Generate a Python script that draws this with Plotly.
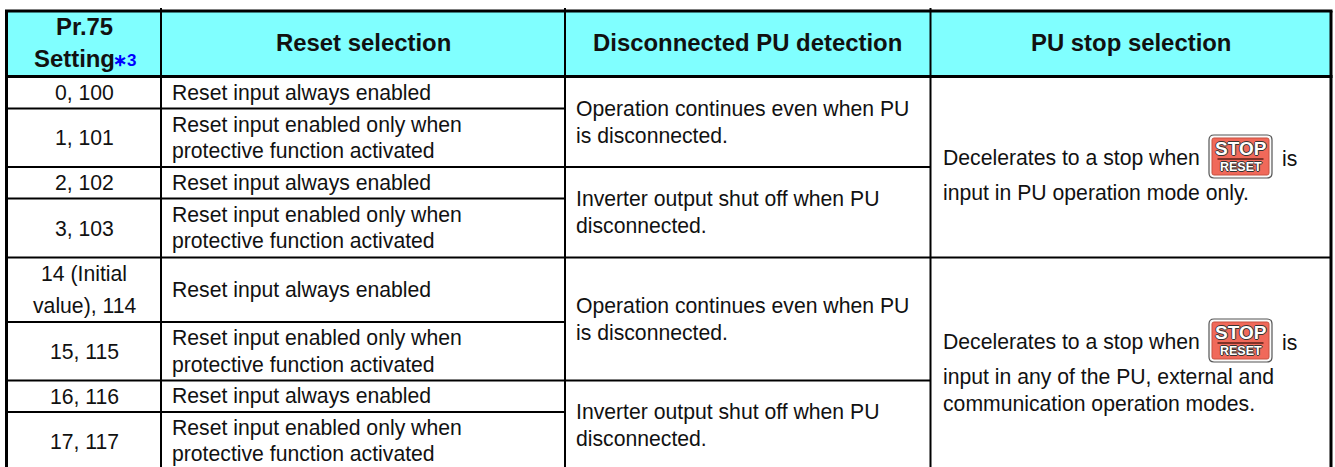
import plotly.graph_objects as go

# ---- table content ----
headers = ["Reset selection", "Disconnected PU detection", "PU stop selection"]
pr75_header = ["Pr.75", "Setting"]
footnote_mark = "∗3"
pr75_values = [["0, 100"], ["1, 101"], ["2, 102"], ["3, 103"],
               ["14 (Initial", "value), 114"], ["15, 115"], ["16, 116"], ["17, 117"]]
ALWAYS = ["Reset input always enabled"]
ONLY = ["Reset input enabled only when", "protective function activated"]
reset_values = [ALWAYS, ONLY, ALWAYS, ONLY, ALWAYS, ONLY, ALWAYS, ONLY]
CONT = ["Operation continues even when PU", "is disconnected."]
SHUT = ["Inverter output shut off when PU", "disconnected."]
detect_values = [CONT, SHUT, CONT, SHUT]
stop_values = [
    ["Decelerates to a stop when", "input in PU operation mode only."],
    ["Decelerates to a stop when", "input in any of the PU, external and", "communication operation modes."],
]

# ---- geometry (page pixels, used through the axes) ----
X = [6.5, 161, 565, 930.5, 1331]
Y_TOP, Y_HEAD = 11, 76.5
ROWS = [76.5, 108.5, 167, 198.5, 257.5, 322, 380.5, 412, 470]
FS = 21.2
HFS = 23.9
LH = 26.5
FONT = "Liberation Sans, Arial, sans-serif"

shapes, ann = [], []

def text(x, y, s, anchor="left", bold=False, size=FS, color="#111111"):
    ann.append(dict(x=x, y=y, xref="x", yref="y", text=f"<b>{s}</b>" if bold else s,
                    showarrow=False, xanchor=anchor, yanchor="middle",
                    font=dict(family=FONT, size=size, color=color)))

def line(x0, y0, x1, y1, w=2.2, c="#000000"):
    shapes.append(dict(type="line", x0=x0, y0=y0, x1=x1, y1=y1, xref="x", yref="y",
                       line=dict(color=c, width=w)))

def lines(xc, yc, rows, anchor, lh=LH):
    n = len(rows)
    for i, s in enumerate(rows):
        text(xc, yc + (i - (n - 1) / 2) * lh, s, anchor)

def rounded(x0, y0, x1, y1, r, **kw):
    p = (f"M{x0+r},{y0} L{x1-r},{y0} Q{x1},{y0} {x1},{y0+r} L{x1},{y1-r} Q{x1},{y1} {x1-r},{y1} "
         f"L{x0+r},{y1} Q{x0},{y1} {x0},{y1-r} L{x0},{y0+r} Q{x0},{y0} {x0+r},{y0} Z")
    shapes.append(dict(type="path", path=p, xref="x", yref="y", **kw))

# header background
shapes.append(dict(type="rect", x0=X[0], x1=X[-1], y0=Y_TOP, y1=Y_HEAD, xref="x", yref="y",
                   fillcolor="#80FFFF", line=dict(width=0), layer="below"))

# borders
line(X[0] - 1.5, Y_TOP, X[-1] + 1.5, Y_TOP, 3)
line(X[0] - 1.5, Y_HEAD, X[-1] + 1.5, Y_HEAD, 3)
line(X[0], Y_TOP, X[0], 470, 3)
line(X[-1], Y_TOP, X[-1], 470, 3)
for xv in X[1:-1]:
    line(xv, 8, xv, 470, 2)

# rows
ROW_END = [X[2], X[3], X[2], X[4], X[2], X[3], X[2]]
for yv, xend in zip(ROWS[1:-1], ROW_END):
    line(X[0], yv, xend, yv, 2)

# header text
text(84, 26.5, pr75_header[0], "center", True, HFS)
text(74, 58.5, pr75_header[1], "center", True, HFS)
ann.append(dict(x=124.5, y=60, xref="x", yref="y", text=f"<b>{footnote_mark}</b>", showarrow=False,
                xanchor="center", yanchor="middle",
                font=dict(family="Liberation Sans Narrow, Liberation Sans", size=17, color="#0000FF")))
for k, h in enumerate(headers):
    text((X[k + 1] + X[k + 2]) / 2, 42.5, h, "center", True, HFS)

# body text
for r in range(8):
    yc = (ROWS[r] + ROWS[r + 1]) / 2
    lines(84, yc, pr75_values[r], "center", 32 if len(pr75_values[r]) > 1 else LH)
    lines(170, yc, reset_values[r], "left")
for g in range(4):
    yc = (ROWS[2 * g] + ROWS[2 * g + 2]) / 2
    lines(573.5, yc, detect_values[g], "left")

# stop column
SHADOW = "-1px 0 #333, 1px 0 #333, 0 -1px #333, 0 1px #333"
def button(cx, cy):
    w, h = 63, 43
    rounded(cx - w / 2, cy - h / 2, cx + w / 2, cy + h / 2, 5, fillcolor="#FAFAFA",
            line=dict(color="#555555", width=1.2))
    rounded(cx - w / 2 + 3, cy - h / 2 + 3, cx + w / 2 - 3, cy + h / 2 - 3, 2, fillcolor="#F0695A",
            line=dict(color="#C9503F", width=1))
    line(cx - 23, cy + 2.5, cx + 23, cy + 2.5, 1.5, "#5A1F18")
    ann.append(dict(x=cx, y=cy - 8.5, xref="x", yref="y", text="<b>STOP</b>", showarrow=False,
                    font=dict(family=FONT, size=19, color="#FFFFFF", shadow=SHADOW)))
    ann.append(dict(x=cx, y=cy + 10, xref="x", yref="y", text="<b>RESET</b>", showarrow=False,
                    font=dict(family=FONT, size=12.5, color="#FFFFFF", shadow=SHADOW)))

STOP_Y = [158, 342]
for yb, block in zip(STOP_Y, stop_values):
    text(940.5, yb, block[0])
    text(1280, yb, "is")
    button(1240.5, yb - 1.5)
    for j, s in enumerate(block[1:]):
        text(940.5, yb + 35 + j * 27, s)

fig = go.Figure()
fig.update_layout(
    width=1335, height=467, margin=dict(l=0, r=0, t=0, b=0),
    paper_bgcolor="white", plot_bgcolor="white", showlegend=False,
    xaxis=dict(range=[0, 1335], visible=False, fixedrange=True),
    yaxis=dict(range=[467, 0], visible=False, fixedrange=True),
    shapes=shapes, annotations=ann,
)
fig.write_html("out.html", config={"displayModeBar": False}, default_width="1335px", default_height="467px",
               post_script="document.body.style.margin='0';document.documentElement.style.overflow='hidden';")
